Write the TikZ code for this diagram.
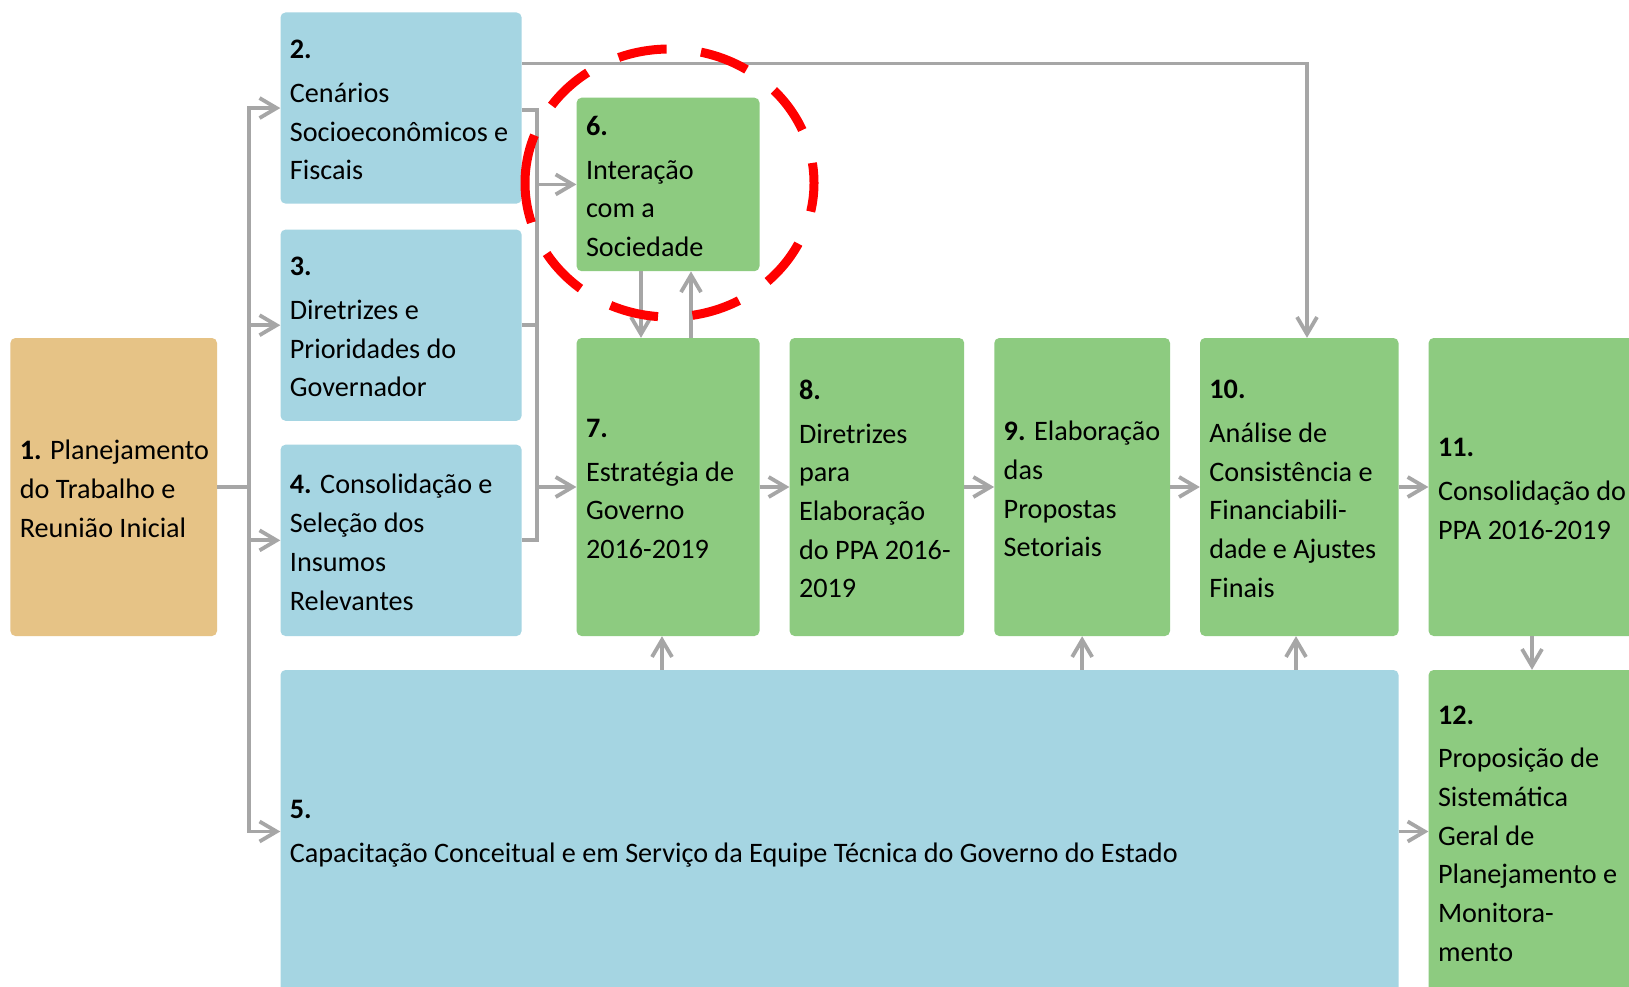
\documentclass[tikz,border=0pt]{standalone}
\usepackage{fontspec}
\setmainfont{Carlito}
\usetikzlibrary{arrows.meta,fit}
\definecolor{cblue}{RGB}{165,213,226}
\definecolor{cgreen}{RGB}{141,203,128}
\definecolor{ctan}{RGB}{230,195,134}
\definecolor{cgray}{RGB}{166,166,166}
\begin{document}
\begin{tikzpicture}[x=1pt,y=-1pt,
  box/.style={rounded corners=5pt, inner sep=0pt, draw=none},
  bluebox/.style={box, fill=cblue},
  greenbox/.style={box, fill=cgreen},
  tanbox/.style={box, fill=ctan},
  txt/.style={anchor=west, align=left, inner sep=0pt, yshift=-2pt, font=\fontsize{28.2}{38.7}\selectfont, text=black},
  conn/.style={draw=cgray, line width=3.8pt},
  barb/.tip={Straight Barb[length=17pt,width=20pt]},
  arr/.style={conn, -barb},
]
\useasboundingbox (0,0) rectangle (1629,987);
\fill[white] (0,0) rectangle (1629,987);

% boxes
\node[tanbox,   fit={(10.4,338) (217,636)}] (b1) {};
\node[bluebox,  fit={(280.5,12.5) (521.6,203.6)}] (b2) {};
\node[bluebox,  fit={(280.5,229.6) (521.6,420.8)}] (b3) {};
\node[bluebox,  fit={(280.5,444.7) (521.6,636)}] (b4) {};
\node[bluebox,  fit={(280.5,670) (1398.5,993)}] (b5) {};
\node[greenbox, fit={(576.6,97.7) (759.5,271.2)}] (b6) {};
\node[greenbox, fit={(576.6,338) (759.5,636)}] (b7) {};
\node[greenbox, fit={(789.6,338) (964.2,636)}] (b8) {};
\node[greenbox, fit={(994.3,338) (1170,636)}] (b9) {};
\node[greenbox, fit={(1200,338) (1398.5,636)}] (b10) {};
\node[greenbox, fit={(1428.6,338) (1660,636)}] (b11) {};
\node[greenbox, fit={(1428.6,670) (1660,993)}] (b12) {};

% texts
\node[txt] (t1) at ([xshift=9.4pt]b1.west) {\textbf{1.} Planejamento\\do Trabalho e\\Reunião Inicial};
\node[txt] (t2) at ([xshift=9.4pt]b2.west) {\textbf{2.}\\[5pt]Cenários\\Socioeconômicos e\\Fiscais};
\node[txt] (t3) at ([xshift=9.4pt]b3.west) {\textbf{3.}\\[5pt]Diretrizes e\\Prioridades do\\Governador};
\node[txt] (t4) at ([xshift=9.4pt]b4.west) {\textbf{4.} Consolidação e\\Seleção dos\\Insumos\\Relevantes};
\node[txt] (t5) at ([xshift=9.4pt]b5.west) {\textbf{5.}\\[5pt]Capacitação Conceitual e em Serviço da Equipe Técnica do Governo do Estado};
\node[txt] (t6) at ([xshift=9.4pt]b6.west) {\textbf{6.}\\[5pt]Interação\\com a\\Sociedade};
\node[txt] (t7) at ([xshift=9.4pt]b7.west) {\textbf{7.}\\[5pt]Estratégia de\\Governo\\2016-2019};
\node[txt] (t8) at ([xshift=9.4pt]b8.west) {\textbf{8.}\\[5pt]Diretrizes\\para\\Elaboração\\do PPA 2016-\\2019};
\node[txt] (t9) at ([xshift=9.4pt]b9.west) {\textbf{9.} Elaboração\\das\\Propostas\\Setoriais};
\node[txt] (t10) at ([xshift=9.4pt]b10.west) {\textbf{10.}\\[5pt]Análise de\\Consistência e\\Financiabili-\\dade e Ajustes\\Finais};
\node[txt] (t11) at ([xshift=9.4pt]b11.west) {\textbf{11.}\\[5pt]Consolidação do\\PPA 2016-2019};
\node[txt] (t12) at ([xshift=9.4pt]b12.west) {\textbf{12.}\\[5pt]Proposição de\\Sistemática\\Geral de\\Planejamento e\\Monitora-\\mento};

% helper coordinates
\coordinate (busL) at (249,0);
\coordinate (busR) at (537,0);
\coordinate (tr) at (1307,63.5);
\coordinate (d67) at (641,0);
\coordinate (u67) at (691,0);
\coordinate (u57) at (662,0);
\coordinate (u510) at (1296,0);
\coordinate (d1112) at (1532,0);

% left bus
\draw[conn] (b1.east) -- (busL |- b1.east);
\draw[conn, barb-barb] (b2.west) -- (busL |- b2.west) -- (busL |- b5.west) -- (b5.west);
\draw[arr] (busL |- b3.west) -- (b3.west);
\draw[arr] (busL |- b4.west) -- (b4.west);

% right bus
\draw[conn] ([yshift=-2pt]b2.east) -- ([yshift=-2pt]busR |- b2.east) -- (busR |- b4.east) -- (b4.east);
\draw[conn] (b3.east) -- (busR |- b3.east);
\draw[arr] (busR |- b6.west) -- (b6.west);
\draw[arr] (busR |- b7.west) -- (b7.west);

% top line to 10
\draw[arr] (b2.east |- tr) -| (b10.north -| tr);

% 6 <-> 7
\draw[arr] (b6.south -| d67) -- (b7.north -| d67);
\draw[arr] (b7.north -| u67) -- (b6.south -| u67);

% main chain
\draw[arr] (b7.east) -- (b8.west);
\draw[arr] (b8.east) -- (b9.west);
\draw[arr] (b9.east) -- (b10.west);
\draw[arr] (b10.east) -- (b11.west);

% from 5
\draw[arr] (b5.north -| u57) -- (b7.south -| u57);
\draw[arr] (b5.north -| b9.south) -- (b9.south);
\draw[arr] (b5.north -| u510) -- (b10.south -| u510);
\draw[arr] (b5.east) -- (b12.west);
\draw[arr] (b11.south -| d1112) -- (b12.north -| d1112);

% highlight ellipse
\coordinate (ec) at (669.5,183);
\draw[red, line width=9pt, dash pattern=on 49pt off 34.5pt] ([xshift=-144.5pt]ec) arc[start angle=180, end angle=-180, x radius=144.5pt, y radius=134pt];
\end{tikzpicture}
\end{document}
